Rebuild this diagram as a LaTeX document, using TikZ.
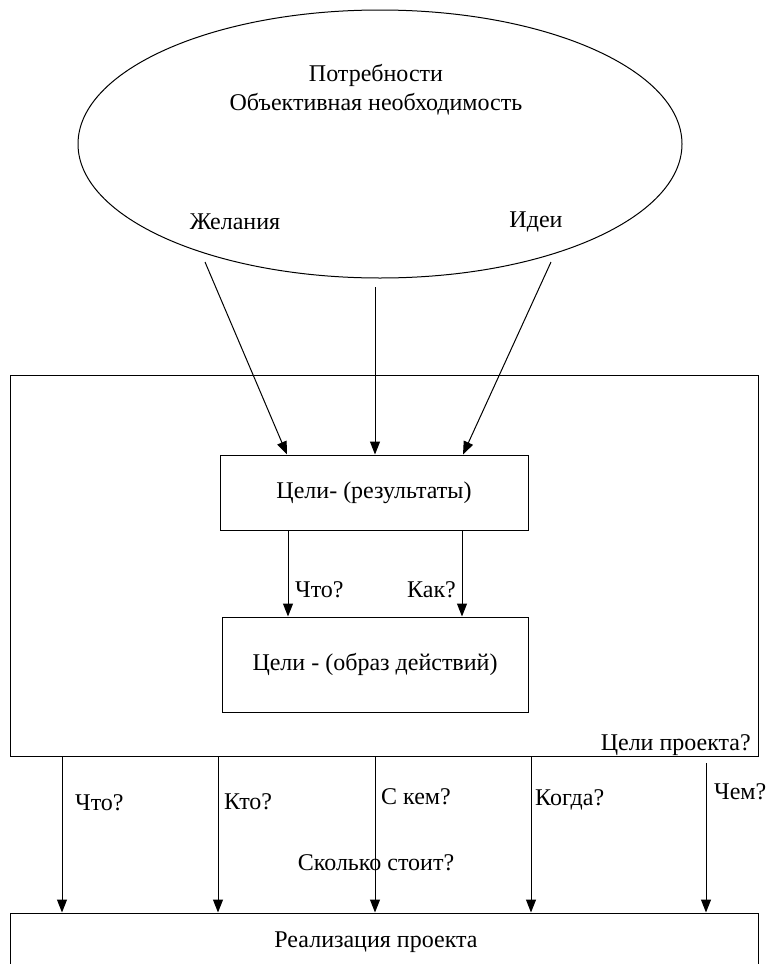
\documentclass[tikz,border=0pt]{standalone}
\usepackage{fontspec}
\setmainfont{Liberation Serif}
\usetikzlibrary{arrows.meta,shapes.geometric}
\begin{document}
\begin{tikzpicture}[x=1pt,y=-1pt,
  every node/.style={font=\fontsize{24}{28}\selectfont,inner sep=0pt},
  line/.style={draw=black,line width=1pt},
  arr/.style={line,-{Triangle[length=13pt,width=10pt]}},
  lbl/.style={anchor=west}]
\useasboundingbox (0,0) rectangle (766,964);
% ellipse
\node[ellipse,line,minimum width=604pt,minimum height=268pt] (ell) at (380,144) {};
\node (t1) at (376,75) {Потребности};
\node (t2) at (376,104) {Объективная необходимость};
\node (zh) at (235,222) {Желания};
\node (id) at (536,222) {Идеи};
\coordinate (e1) at (205,262);
\coordinate (e2) at (375,287);
\coordinate (e3) at (551,262);
% big box
\node[line,minimum width=748pt,minimum height=381pt] (big) at (384,565.5) {};
\node[anchor=east] (cp) at (751,745) {Цели проекта?};
% inner boxes
\node[line,minimum width=308pt,minimum height=75pt] (g1) at (374,492.5) {Цели- (результаты)};
\node[line,minimum width=306pt,minimum height=95pt] (g2) at (375,664.5) {Цели - (образ действий)};
\draw[arr] (e1) -- (g1.north -| 287,0);
\draw[arr] (e2) -- (g1.north -| e2);
\draw[arr] (e3) -- (g1.north -| 463,0);
\coordinate (a1) at (288,530);
\coordinate (a2) at (462,530);
\draw[arr] (a1) -- (a1 |- g2.north);
\draw[arr] (a2) -- (a2 |- g2.north);
\node[lbl] (q1) at (295,590) {Что?};
\node[anchor=east] (q2) at (456,590) {Как?};
% bottom box
\node[line,minimum width=748pt,minimum height=70pt] (real) at (384,948) {};
\node (rt) at (376,942) {Реализация проекта};
\coordinate (b1) at (62,756);
\coordinate (b2) at (218,756);
\coordinate (b3) at (375,756);
\coordinate (b4) at (531,756);
\coordinate (b5) at (706,763);
\foreach \b in {b1,b2,b3,b4,b5} \draw[arr] (\b) -- (\b |- real.north);
\node[lbl] (l1) at (75,803) {Что?};
\node[lbl] (l2) at (224,802) {Кто?};
\node[lbl] (l3) at (381,797) {С кем?};
\node[lbl] (l4) at (535,800) {Когда?};
\node[lbl] (l5) at (714,792) {Чем?};
\node (sk) at (376,863) {Сколько стоит?};
\end{tikzpicture}
\end{document}
